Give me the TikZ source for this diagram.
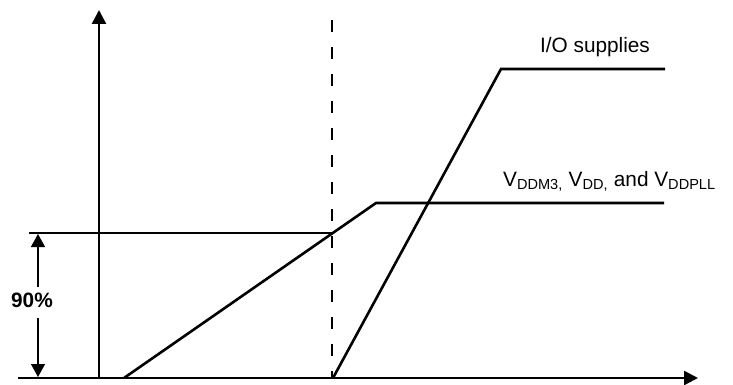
\documentclass[tikz,border=0pt]{standalone}
\usepackage{fontspec}
\setmainfont{Liberation Sans}
\usetikzlibrary{arrows.meta}
\begin{document}
\begin{tikzpicture}[x=1pt,y=-1pt,
  axis/.style={line width=2.4pt},
  curve/.style={line width=2.6pt, line join=miter},
  level/.style={line width=1.5pt},
  marker/.style={line width=1.3pt},
  axtip/.style={-{Triangle[length=14pt,width=14pt]}},
  smalltip/.style={-{Triangle[length=13pt,width=14pt]}},
  dashline/.style={line width=2.2pt, dash pattern=on 12pt off 15pt},
  lbl/.style={font=\fontsize{20.8}{24}\selectfont, inner sep=0pt}
]
\useasboundingbox (0,0) rectangle (733,385);
% coordinates
\coordinate (yaxb) at (99,379);
\coordinate (yaxt) at (99,10);
\coordinate (xaxl) at (18,378);
\coordinate (xaxr) at (698,378);
\coordinate (dtop) at (332,20);
\coordinate (dbot) at (332,378);
\coordinate (v0) at (124,378);
\coordinate (v1) at (376,203);
\coordinate (v2) at (664,203);
\coordinate (io0) at (333,378);
\coordinate (io1) at (501,69);
\coordinate (io2) at (665,69);
\coordinate (l0) at (29,233);
\coordinate (l1) at (333,233);
\coordinate (atop) at (38,234);
\coordinate (abot) at (38,377);
% axes
\draw[axis,axtip] (yaxb) -- (yaxt);
\draw[axis,axtip] (xaxl) -- (xaxr);
% dashed marker
\draw[dashline] (dtop) -- (dbot);
% 90% level line
\draw[level] (l0) -- (l1);
% ramps
\draw[curve] (v0) -- (v1) -- (v2);
\draw[curve] (io0) -- (io1) -- (io2);
% 90% label and arrows
\node[lbl, font=\fontsize{20.8}{24}\selectfont\bfseries] (pct) at (32,300) {90\%};
\draw[marker,smalltip] (pct.north -| atop) ++(0,-5) coordinate (pu) -- (atop);
\draw[marker,smalltip] (pct.south -| abot) ++(0,10) coordinate (pd) -- (abot);
% labels
\node[lbl, anchor=base] (io) at (595,52.7) {I/O supplies};
\node[lbl, anchor=base west] (vdd) at (503,186) {V\textsubscript{DDM3,} V\textsubscript{DD,} and V\textsubscript{DDPLL}};
\end{tikzpicture}
\end{document}
